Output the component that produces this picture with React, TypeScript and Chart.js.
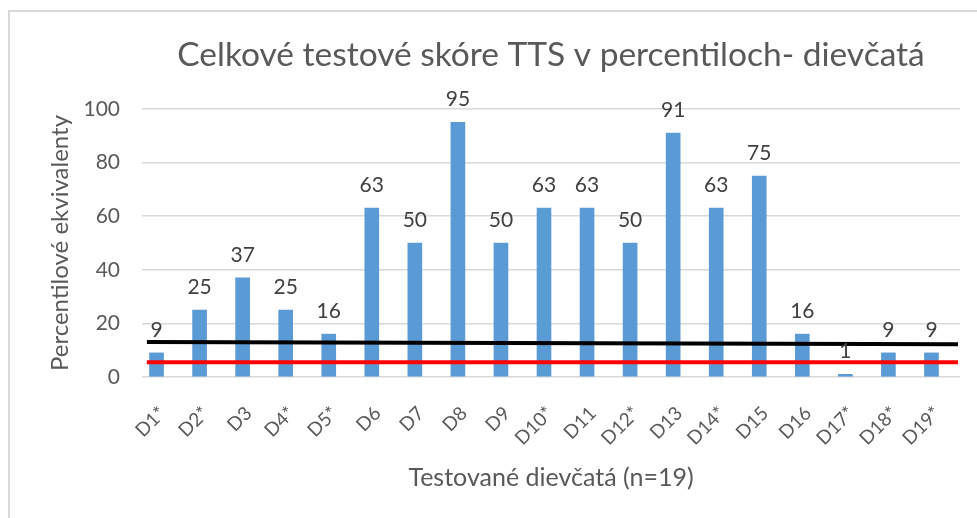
import { useEffect, useRef } from "react";
import { Chart, registerables } from "chart.js";

Chart.register(...registerables);

const categories = ["D1*", "D2*", "D3", "D4*", "D5*", "D6", "D7", "D8", "D9", "D10*", "D11", "D12*", "D13", "D14*", "D15", "D16", "D17*", "D18*", "D19*"];
const scores = [9, 25, 37, 25, 16, 63, 50, 95, 50, 63, 63, 50, 91, 63, 75, 16, 1, 9, 9];
const lineX = [0, 1];
const blackLine = [13.1, 12.2];
const redLine = [5.5, 5.5];

const TEXT = "#595959";
const FONT = "Lato, 'Open Sans', sans-serif";

const valueLabels = {
  id: "valueLabels",
  afterDatasetsDraw(chart: any) {
    const meta = chart.getDatasetMeta(0);
    const ctx = chart.ctx;
    ctx.save();
    ctx.font = `21px ${FONT}`;
    ctx.fillStyle = "#404040";
    ctx.textAlign = "center";
    ctx.textBaseline = "alphabetic";
    meta.data.forEach((el: any, i: number) => {
      ctx.fillText(String(scores[i]), el.x, el.y - 16);
    });
    ctx.restore();
  },
};

export default function App() {
  const ref = useRef<HTMLCanvasElement | null>(null);
  useEffect(() => {
    if (!ref.current) return;
    const chart = new Chart(ref.current, {
      type: "bar",
      data: {
        labels: categories,
        datasets: [
          {
            type: "bar",
            data: scores,
            backgroundColor: "#5B9BD5",
            barThickness: 14,
            xAxisID: "x",
            yAxisID: "y",
            order: 1,
          } as any,
          {
            type: "line",
            data: lineX.map((x, i) => ({ x, y: blackLine[i] })),
            borderColor: "#000000",
            borderWidth: 4,
            pointRadius: 0,
            xAxisID: "xl",
            yAxisID: "y",
            clip: false,
            order: 0,
          } as any,
          {
            type: "line",
            data: lineX.map((x, i) => ({ x, y: redLine[i] })),
            borderColor: "#FF0000",
            borderWidth: 4,
            pointRadius: 0,
            xAxisID: "xl",
            yAxisID: "y",
            clip: false,
            order: 0,
          } as any,
        ],
      },
      options: {
        animation: false,
        responsive: true,
        maintainAspectRatio: false,
        layout: { padding: { top: 0, right: 17, left: 0, bottom: 0 } },
        plugins: {
          legend: { display: false },
          tooltip: { enabled: false },
          title: {
            display: true,
            text: "Celkové testové skóre TTS v percentiloch- dievčatá",
            color: TEXT,
            fullSize: false,
            font: { family: FONT, size: 33.5, weight: "normal" as any, lineHeight: 1.2 },
            padding: { top: 23, bottom: 33.8 },
          },
        },
        scales: {
          x: {
            type: "category",
            grid: { display: false, drawTicks: false },
            border: { display: false },
            ticks: {
              color: TEXT,
              font: { family: FONT, size: 19 },
              autoSkip: false,
              maxRotation: 45,
              minRotation: 45,
              padding: 25,
              labelOffset: -1,
            },
            title: {
              display: true,
              text: "Testované dievčatá (n=19)",
              color: TEXT,
              font: { family: FONT, size: 25, lineHeight: 1.2 },
              padding: { top: 0, bottom: 25 },
            },
            afterFit(scale: any) {
              scale.height = 141;
              scale.paddingLeft = 0;
              scale.paddingRight = 0;
            },
          },
          xl: {
            type: "linear",
            display: false,
            offset: false,
            min: -0.006,
            max: 1.0025,
          },
          y: {
            type: "linear",
            min: 0,
            max: 100,
            ticks: {
              stepSize: 20,
              color: TEXT,
              font: { family: FONT, size: 21 },
              padding: 22,
            },
            grid: { color: "#d9d9d9", lineWidth: 1.5, drawTicks: false },
            border: { display: false },
            title: {
              display: true,
              text: "Percentilové ekvivalenty",
              color: TEXT,
              font: { family: FONT, size: 24, lineHeight: 1.2 },
              padding: { top: 36, bottom: 0 },
            },
            afterFit(scale: any) {
              scale.width = 132;
              scale.paddingTop = 0;
              scale.paddingBottom = 0;
            },
          },
        },
      } as any,
      plugins: [valueLabels],
    });
    return () => chart.destroy();
  }, []);

  return (
    <div
      style={{
        position: "fixed",
        left: 8,
        top: 10,
        width: 967,
        height: 506,
        borderLeft: "2px solid #d9d9d9",
        borderTop: "2px solid #d9d9d9",
        background: "#fff",
      }}
    >
      <canvas ref={ref} />
    </div>
  );
}
